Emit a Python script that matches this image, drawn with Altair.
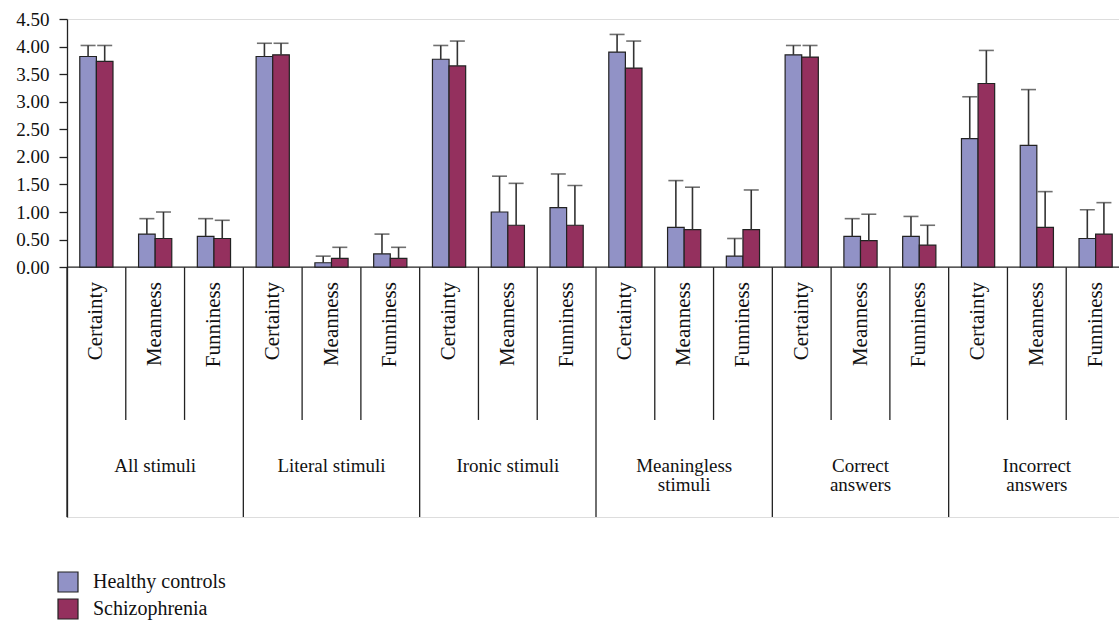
import altair as alt
import pandas as pd

# ---------------- data ----------------
groups = ["All stimuli", "Literal stimuli", "Ironic stimuli",
          "Meaningless\nstimuli", "Correct\nanswers", "Incorrect\nanswers"]
measures = ["Certainty", "Meanness", "Funniness"]
series = ["Healthy controls", "Schizophrenia"]

hc_mean = [3.82, 0.60, 0.56, 3.82, 0.08, 0.24, 3.77, 1.00, 1.08,
           3.90, 0.72, 0.20, 3.85, 0.56, 0.56, 2.33, 2.21, 0.52]
hc_sd = [0.20, 0.28, 0.32, 0.24, 0.12, 0.36, 0.25, 0.65, 0.61,
         0.32, 0.85, 0.32, 0.17, 0.32, 0.36, 0.76, 1.01, 0.52]
sz_mean = [3.73, 0.52, 0.52, 3.85, 0.16, 0.16, 3.65, 0.76, 0.76,
           3.61, 0.68, 0.68, 3.81, 0.48, 0.40, 3.33, 0.72, 0.60]
sz_sd = [0.29, 0.48, 0.33, 0.21, 0.20, 0.20, 0.45, 0.76, 0.72,
         0.49, 0.77, 0.72, 0.21, 0.48, 0.36, 0.60, 0.65, 0.57]

y_ticks = [0, 0.5, 1.0, 1.5, 2.0, 2.5, 3.0, 3.5, 4.0, 4.5]

# ---------------- tables built from the arrays ----------------
cats = []
rows = []
for gi, g in enumerate(groups):
    for mi, m in enumerate(measures):
        k = gi * 3 + mi
        cid = f"{gi}-{m}"
        cats.append({"cat": cid, "group": g, "measure": m, "first": mi == 0, "middle": mi == 1})
        rows.append({"cat": cid, "series": series[0], "value": hc_mean[k], "sd": hc_sd[k]})
        rows.append({"cat": cid, "series": series[1], "value": sz_mean[k], "sd": sz_sd[k]})
df = pd.DataFrame(rows)
cat_df = pd.DataFrame(cats)
cat_order = list(cat_df["cat"])

# label-area levels (below zero on the value scale)
Y_MIN = -4.53
SHORT_BOTTOM = -2.77
MEASURE_TOP = -0.27
GROUP_BASE = -3.71
cat_df["top"] = 0.0
cat_df["bottom"] = cat_df["first"].map({True: Y_MIN, False: SHORT_BOTTOM})

FONT = "Liberation Serif"
HC_COL = "#9192C6"
SZ_COL = "#94305E"
LINE = "#222222"
TXT = "#111111"

x_enc = alt.X("cat:N", sort=cat_order,
              scale=alt.Scale(paddingInner=0, paddingOuter=0, range=[0, 1058]),
              axis=None)
xoff = alt.XOffset("series:N", sort=series,
                   scale=alt.Scale(domain=series, paddingInner=0, paddingOuter=0.77))
y_scale = alt.Scale(domain=[Y_MIN, 4.5], nice=False, zero=False)
y_axis = alt.Axis(values=y_ticks, format=".2f", title=None, grid=False,
                  tickSize=8, tickColor=LINE, tickWidth=1.3,
                  domainColor=LINE, domainWidth=1.3,
                  labelFont=FONT, labelFontSize=19, labelColor=TXT,
                  labelPadding=10)


def Y(field):
    return alt.Y(field, scale=y_scale, axis=y_axis)


base = alt.Chart(df)

bars = base.mark_bar(stroke=LINE, strokeWidth=1.2).encode(
    x=x_enc,
    xOffset=xoff,
    y=Y("value:Q"),
    y2=alt.datum(0),
    color=alt.Color("series:N", sort=series,
                    scale=alt.Scale(domain=series, range=[HC_COL, SZ_COL]),
                    legend=alt.Legend(
                        title=None, orient="none", legendX=-10, legendY=552,
                        direction="vertical", symbolType="square", symbolSize=400,
                        symbolStrokeColor=LINE, symbolStrokeWidth=1.2,
                        symbolOpacity=1,
                        labelFont=FONT, labelFontSize=20, labelColor=TXT,
                        labelOffset=14, rowPadding=1, padding=0)),
)

err = base.transform_calculate(upper="datum.value + datum.sd")

err_rule = err.mark_rule(color="#333333", strokeWidth=1.6).encode(
    x=x_enc, xOffset=xoff, y=Y("value:Q"), y2="upper:Q")

err_cap = err.mark_tick(color="#333333", thickness=1.6, size=15).encode(
    x=x_enc, xOffset=xoff, y=Y("upper:Q"))

zero_line = alt.Chart(pd.DataFrame({"zero": [0.0]})).mark_rule(
    color=LINE, strokeWidth=1.3).encode(
    y=Y("zero:Q"), x=alt.value(0), x2=alt.value("width"))

separators = alt.Chart(cat_df).mark_rule(color=LINE, strokeWidth=1.3).encode(
    x=alt.X("cat:N", sort=cat_order, bandPosition=0,
            scale=alt.Scale(paddingInner=0, paddingOuter=0, range=[0, 1058]), axis=None),
    y=Y("top:Q"), y2="bottom:Q")

measure_text = alt.Chart(cat_df).mark_text(
    angle=270, align="right", baseline="middle", font=FONT, fontSize=21,
    color=TXT).encode(
    x=x_enc, y=alt.datum(MEASURE_TOP), text="measure:N")

group_text = alt.Chart(cat_df).transform_filter("datum.middle").mark_text(
    align="center", baseline="alphabetic", font=FONT, fontSize=19,
    lineBreak="\n", lineHeight=19, color=TXT).encode(
    x=x_enc, y=alt.datum(GROUP_BASE), text="group:N")

chart = alt.layer(
    zero_line, separators, bars, err_rule, err_cap, measure_text, group_text
).properties(
    width=1052, height=498,
    autosize=alt.AutoSizeParams(type="none"),
    padding={"left": 67, "top": 19, "right": 0, "bottom": 105},
).configure_view(stroke=None).configure(background="white")

chart.save("out.html", embed_options={"renderer": "svg", "actions": False})
